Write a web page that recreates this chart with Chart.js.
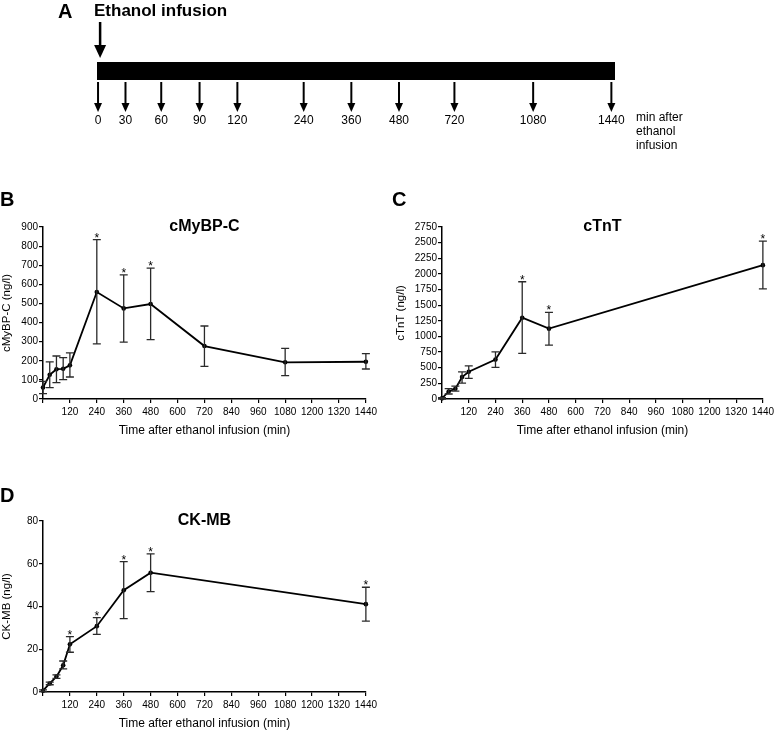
<!DOCTYPE html>
<html>
<head>
<meta charset="utf-8">
<script src="https://cdn.jsdelivr.net/npm/chart.js@4.4.1/dist/chart.umd.min.js"></script>
<style>
    body { margin: 0; background: #fff; font-family: 'Liberation Sans', Arial, sans-serif; }
    #fig { position: relative; width: 777px; height: 731px; overflow: hidden; }
    #fig canvas { position: absolute; }
    .txt { position: absolute; color: #000; line-height: 1; white-space: nowrap; }
    .panel { font-size: 20px; font-weight: bold; }
</style>
</head>
<body>
<div id="fig">
    <canvas id="timelineChart" width="777" height="140" style="left:0;top:0"></canvas>
    <canvas id="mybpcChart" width="380" height="238" style="left:0;top:200px"></canvas>
    <canvas id="ctntChart" width="387" height="238" style="left:390px;top:200px"></canvas>
    <canvas id="ckmbChart" width="380" height="237" style="left:0;top:494px"></canvas>

    <div class="txt panel" style="left:58px;top:1px">A</div>
    <div class="txt" style="left:94px;top:2px;font-size:17px;font-weight:bold">Ethanol infusion</div>
    <div class="txt" style="left:636px;top:110px;font-size:12px;line-height:14px">min after<br>ethanol<br>infusion</div>
    <div class="txt panel" style="left:0;top:189px">B</div>
    <div class="txt panel" style="left:392px;top:189px">C</div>
    <div class="txt panel" style="left:0;top:485px">D</div>
</div>

<script>
// --- Sampling schedule (panel A) ---
const sampleTimes = [0, 30, 60, 90, 120, 240, 360, 480, 720, 1080, 1440];
// where each sampling arrow sits along the infusion bar (schematic, 0-100)
const timelineSlots = [0.2, 5.5, 12.4, 19.8, 27.1, 39.9, 49.1, 58.3, 69.0, 84.2, 99.3];

// --- cMyBP-C (panel B) ---
const mybpcTimes = [0, 30, 60, 90, 120, 240, 360, 480, 720, 1080, 1440];
const mybpcMean  = [60, 127, 156, 158, 176, 560, 474, 497, 277, 192, 195];
const mybpcLow   = [28, 60, 86, 101, 115, 288, 298, 311, 171, 122, 157];
const mybpcHigh  = [92, 194, 225, 216, 241, 834, 650, 685, 382, 265, 237];
const mybpcSig   = [240, 360, 480];

// --- cTnT (panel C) ---
const ctntTimes = [0, 30, 60, 90, 120, 240, 360, 480, 1440];
const ctntMean  = [10, 120, 165, 350, 435, 630, 1300, 1125, 2140];
const ctntLow   = [0, 80, 125, 255, 330, 505, 730, 860, 1760];
const ctntHigh  = [20, 165, 205, 435, 530, 755, 1875, 1385, 2525];
const ctntSig   = [360, 480, 1440];

// --- CK-MB (panel D) ---
const ckmbTimes = [0, 30, 60, 90, 120, 240, 360, 480, 1440];
const ckmbMean  = [0.6, 4, 7.2, 12.5, 22.3, 30.8, 47.6, 55.8, 41.1];
const ckmbLow   = [0.2, 3.4, 6.4, 10.8, 18.6, 27, 34.3, 47, 33.2];
const ckmbHigh  = [1, 4.6, 8, 14.5, 25.9, 34.8, 61, 64.6, 49];
const ckmbSig   = [120, 240, 360, 480, 1440];

Chart.defaults.font.family = "'Liberation Sans', Arial, sans-serif";
Chart.defaults.color = '#000';

// error bars + significance stars, drawn through the chart's own scales
const errorBarPlugin = {
    id: 'errorBars',
    afterDatasetsDraw(chart, args, opts) {
        const { ctx, scales: { x, y } } = chart;
        const pts = chart.data.datasets[0].data;
        ctx.save();
        ctx.strokeStyle = '#2a2a2a';
        ctx.lineWidth = 1.3;
        pts.forEach((p, i) => {
            const px = x.getPixelForValue(p.x);
            const yl = y.getPixelForValue(opts.low[i]);
            const yh = y.getPixelForValue(opts.high[i]);
            ctx.beginPath();
            ctx.moveTo(px, yl); ctx.lineTo(px, yh);
            ctx.moveTo(px - 4, yl); ctx.lineTo(px + 4, yl);
            ctx.moveTo(px - 4, yh); ctx.lineTo(px + 4, yh);
            ctx.stroke();
        });
        ctx.fillStyle = '#000';
        ctx.font = "12px 'Liberation Sans', Arial, sans-serif";
        ctx.textAlign = 'center';
        ctx.textBaseline = 'alphabetic';
        opts.sig.forEach(t => {
            const i = pts.findIndex(p => p.x === t);
            if (i < 0) return;
            ctx.fillText('*', x.getPixelForValue(t), y.getPixelForValue(opts.high[i]) + 2);
        });
        ctx.restore();
    }
};

// sampling arrows for the schematic
const arrowPlugin = {
    id: 'arrows',
    afterDatasetsDraw(chart, args, opts) {
        const { ctx, scales: { x, y } } = chart;
        function arrow(xv, from, to, shaft, headW, headH) {
            const px = x.getPixelForValue(xv);
            const y0 = y.getPixelForValue(from);
            const y1 = y.getPixelForValue(to);
            ctx.beginPath();
            ctx.lineWidth = shaft;
            ctx.moveTo(px, y0);
            ctx.lineTo(px, y1 - headH + 1);
            ctx.stroke();
            ctx.beginPath();
            ctx.moveTo(px - headW / 2, y1 - headH);
            ctx.lineTo(px + headW / 2, y1 - headH);
            ctx.lineTo(px, y1);
            ctx.closePath();
            ctx.fill();
        }
        ctx.save();
        ctx.strokeStyle = '#000';
        ctx.fillStyle = '#000';
        arrow(opts.startSlot, 22, 58, 2.5, 12, 13);
        timelineSlots.forEach(s => arrow(s, 82, 112, 2, 8, 9));
        ctx.restore();
    }
};

new Chart(document.getElementById('timelineChart'), {
    type: 'line',
    data: {
        datasets: [{
            data: [{ x: 0, y: 71 }, { x: 100, y: 71 }],
            borderColor: '#000',
            borderWidth: 18,
            borderCapStyle: 'butt',
            pointRadius: 0
        }]
    },
    options: {
        responsive: false,
        animation: false,
        events: [],
        layout: { padding: { left: 97, right: 162, top: 0, bottom: 12 } },
        plugins: {
            legend: { display: false },
            tooltip: { enabled: false },
            arrows: { startSlot: 0.6 }
        },
        scales: {
            x: {
                type: 'linear',
                min: 0,
                max: 100,
                afterBuildTicks: s => { s.ticks = timelineSlots.map(v => ({ value: v })); },
                afterFit: s => { s.height = 16; },
                ticks: {
                    autoSkip: false,
                    maxRotation: 0,
                    padding: 1,
                    font: { size: 12 },
                    callback: (v, i) => String(sampleTimes[i])
                },
                grid: { display: false, drawTicks: false },
                border: { display: false }
            },
            y: { display: false, min: 0, max: 112, reverse: true }
        }
    },
    plugins: [arrowPlugin]
});

function makePanel(id, cfg) {
    return new Chart(document.getElementById(id), {
        type: 'line',
        data: {
            datasets: [{
                data: cfg.times.map((t, i) => ({ x: t, y: cfg.mean[i] })),
                borderColor: '#000',
                borderWidth: 1.8,
                pointRadius: 2.3,
                pointBackgroundColor: '#000',
                pointBorderWidth: 0,
                tension: 0,
                clip: false
            }]
        },
        options: {
            responsive: false,
            animation: false,
            events: [],
            layout: { padding: { left: 0, right: cfg.padRight, top: 0, bottom: 0 } },
            plugins: {
                legend: { display: false },
                tooltip: { enabled: false },
                title: {
                    display: true,
                    text: cfg.title,
                    fullSize: false,
                    font: { size: 16, weight: 'bold' },
                    padding: { top: 17, bottom: -9.2 }
                },
                errorBars: { low: cfg.low, high: cfg.high, sig: cfg.sig }
            },
            scales: {
                x: {
                    type: 'linear',
                    min: 0,
                    max: 1440,
                    afterFit: s => { s.height = 39; },
                    ticks: {
                        stepSize: 120,
                        autoSkip: false,
                        maxRotation: 0,
                        padding: 3,
                        font: { size: 10 },
                        callback: v => (v === 0 ? '' : String(v))
                    },
                    grid: { drawOnChartArea: false, drawTicks: true, tickLength: 4, color: '#000', lineWidth: 1.2 },
                    border: { color: '#000', width: 1.5 },
                    title: {
                        display: true,
                        text: 'Time after ethanol infusion (min)',
                        font: { size: 12 },
                        padding: { top: 0, bottom: 0 }
                    }
                },
                y: {
                    min: 0,
                    max: cfg.yMax,
                    afterFit: s => { s.width = cfg.yWidth; },
                    ticks: { stepSize: cfg.yStep, padding: 1, font: { size: 10 }, callback: v => String(v) },
                    grid: { drawOnChartArea: false, drawTicks: true, tickLength: 4, color: '#000', lineWidth: 1.2 },
                    border: { color: '#000', width: 1.5 },
                    title: {
                        display: true,
                        text: cfg.yTitle,
                        font: { size: 11.5 },
                        padding: { top: cfg.yTitlePad, bottom: 0 }
                    }
                }
            }
        },
        plugins: [errorBarPlugin]
    });
}

makePanel('mybpcChart', {
    title: 'cMyBP-C', yTitle: 'cMyBP-C (ng/l)',
    times: mybpcTimes, mean: mybpcMean, low: mybpcLow, high: mybpcHigh, sig: mybpcSig,
    yMax: 900, yStep: 100, yWidth: 43, yTitlePad: 0, padRight: 13
});

makePanel('ctntChart', {
    title: 'cTnT', yTitle: 'cTnT (ng/l)',
    times: ctntTimes, mean: ctntMean, low: ctntLow, high: ctntHigh, sig: ctntSig,
    yMax: 2750, yStep: 250, yWidth: 52, yTitlePad: 4, padRight: 11
});

makePanel('ckmbChart', {
    title: 'CK-MB', yTitle: 'CK-MB (ng/l)',
    times: ckmbTimes, mean: ckmbMean, low: ckmbLow, high: ckmbHigh, sig: ckmbSig,
    yMax: 80, yStep: 20, yWidth: 43, yTitlePad: 0, padRight: 13
});
</script>
</body>
</html>
